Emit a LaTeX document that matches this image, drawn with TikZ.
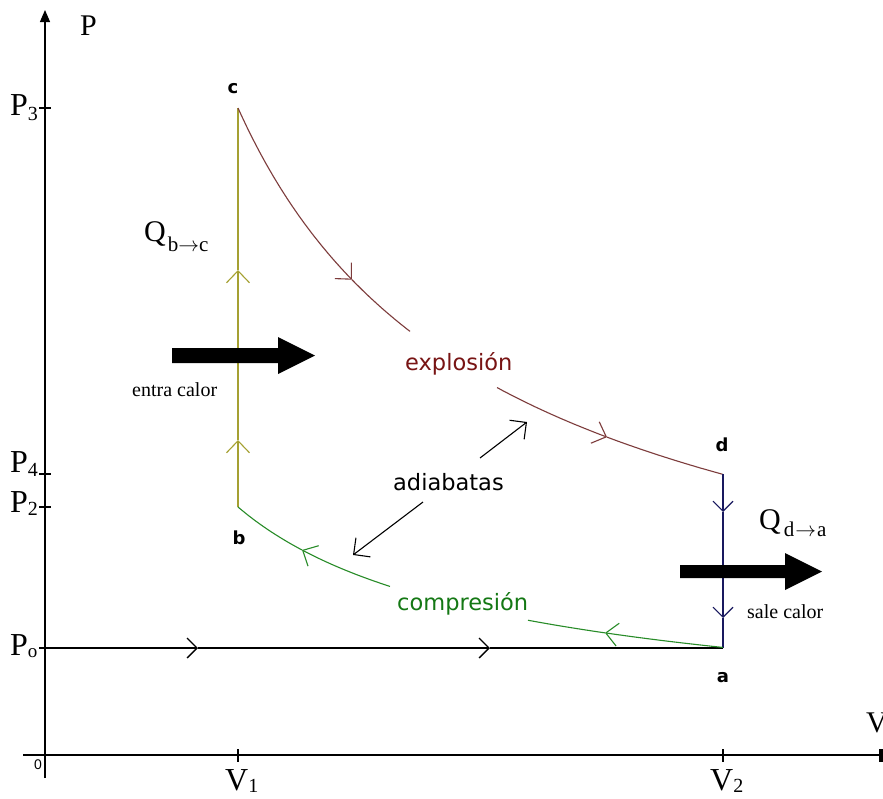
\documentclass[tikz,border=0pt]{standalone}
\usepackage{fontspec}
\setmainfont{Liberation Serif}
\newfontfamily\comic{DejaVu Sans}
\newfontfamily\lsans{Liberation Sans}
\usetikzlibrary{arrows.meta}
\definecolor{olivel}{RGB}{165,160,50}
\definecolor{brownl}{RGB}{125,60,60}
\definecolor{brownt}{RGB}{120,20,20}
\definecolor{greenl}{RGB}{40,140,40}
\definecolor{greent}{RGB}{20,120,20}
\definecolor{navyl}{RGB}{25,25,95}
\begin{document}
\begin{tikzpicture}[x=1pt,y=-1pt,
  axisline/.style={line width=1.3pt,black},
  curve/.style={line width=1.1pt},
  barb/.style={-{Straight Barb[length=12pt,width=23pt]}},
  sbarb/.style={-{Straight Barb[length=10pt,width=20pt]}},
  lbl/.style={inner sep=0pt,font=\fontsize{32}{32}\selectfont},
  pt/.style={inner sep=0pt,font=\comic\bfseries\fontsize{18}{18}\selectfont},
  comictxt/.style={inner sep=0pt,font=\comic\fontsize{22.5}{22.5}\selectfont},
  heat/.style={inner sep=0pt,font=\fontsize{20}{20}\selectfont}]
\useasboundingbox (0,0) rectangle (883,798);
\fill[white] (0,0) rectangle (883,798);
% key points
\coordinate (O) at (45,755);
\coordinate (a) at (723,648);
\coordinate (b) at (238,507);
\coordinate (c) at (238,108);
\coordinate (d) at (723,474);
\coordinate (p0) at (45,648);
% axes
\draw[axisline,-{Triangle[length=12pt,width=10pt]}] (45,778) -- (45,10);
\draw[axisline] (23,755) -- (883,755);
\draw[line width=3.5pt] (881,749) -- (881,762);
\foreach \yy in {108,474,507,648} \draw[axisline] (39,\yy) -- (51,\yy);
\foreach \xx in {238,723} \draw[axisline] (\xx,749) -- (\xx,762);
% axis labels
\node[inner sep=0pt,anchor=base west,font=\fontsize{30}{30}\selectfont] (Plab) at (80,35) {P};
\node[inner sep=0pt,anchor=base west,font=\fontsize{30}{30}\selectfont] (Vlab) at (866,732) {V};
\node[inner sep=0pt,font=\lsans\fontsize{14}{14}\selectfont] (zero) at (38,765) {0};
\node[lbl,anchor=base west] (P3) at (10,115) {P\raisebox{-5pt}{\fontsize{20}{20}\selectfont 3}};
\node[lbl,anchor=base west] (P4) at (10,472) {P\raisebox{-4pt}{\fontsize{20}{20}\selectfont 4}};
\node[lbl,anchor=base west] (P2) at (10,512) {P\raisebox{-3pt}{\fontsize{20}{20}\selectfont 2}};
\node[lbl,anchor=base west] (Po) at (10,655) {P\raisebox{-2pt}{\fontsize{19}{19}\selectfont o}};
\node[lbl,anchor=base west] (V1) at (225,790) {V\raisebox{-2pt}{\fontsize{20}{20}\selectfont 1}};
\node[lbl,anchor=base west] (V2) at (710,790) {V\raisebox{-2pt}{\fontsize{20}{20}\selectfont 2}};
% point labels
\node[pt,anchor=base] (lc) at (233,93) {c};
\node[pt,anchor=base] (lb) at (239,544) {b};
\node[pt,anchor=base] (ld) at (722,451) {d};
\node[pt,anchor=base] (la) at (723,682) {a};
% isobar P0 -> a
\draw[axisline,sbarb] (p0) -- (198,648);
\draw[axisline,sbarb] (198,648) -- (490,648);
\draw[axisline] (490,648) -- (a);
% b -> c (heat in)
\draw[curve,olivel,barb] (b) -- (238,440);
\draw[curve,olivel,barb] (238,440) -- (238,270);
\draw[curve,olivel] (238,270) -- (c);
% c -> d explosion adiabat
\draw[curve,brownl,barb] plot[domain=238:352,samples=50] (\x,{755-647*pow(193/(\x-45),0.665)});
\draw[curve,brownl] plot[domain=352:410,samples=20] (\x,{755-647*pow(193/(\x-45),0.665)});
\draw[curve,brownl,barb] plot[domain=497:607,samples=40] (\x,{755-647*pow(193/(\x-45),0.665)});
\draw[curve,brownl] plot[domain=607:723,samples=40] (\x,{755-647*pow(193/(\x-45),0.665)});
% d -> a
\draw[curve,navyl,sbarb] (d) -- (723,512);
\draw[curve,navyl,sbarb] (723,512) -- (723,618);
\draw[curve,navyl] (723,618) -- (a);
% a -> b compression adiabat
\draw[curve,greenl,barb] plot[domain=723:605,samples=40] (\x,{755-248*pow(193/(\x-45),0.665)});
\draw[curve,greenl] plot[domain=605:528,samples=30] (\x,{755-248*pow(193/(\x-45),0.665)});
\draw[curve,greenl,barb] plot[domain=390:302,samples=30] (\x,{755-248*pow(193/(\x-45),0.665)});
\draw[curve,greenl] plot[domain=302:238,samples=30] (\x,{755-248*pow(193/(\x-45),0.665)});
% curve labels
\node[comictxt,anchor=base west,text=brownt] (expl) at (405,370) {explosión};
\node[comictxt,anchor=base west,text=greent] (comp) at (397,610) {compresión};
\node[comictxt,anchor=base west,text=black] (adia) at (393,490) {adiabatas};
\coordinate (adUp) at (480,458);
\coordinate (adUpTip) at (527,422);
\coordinate (adDn) at (423,502);
\coordinate (adDnTip) at (353,555);
\draw[line width=1.1pt,black,-{Straight Barb[length=12pt,width=24pt]}] (adUp) -- (adUpTip);
\draw[line width=1.1pt,black,-{Straight Barb[length=12pt,width=24pt]}] (adDn) -- (adDnTip);
% heat arrows
\fill[black] (172,348) -- (278,348) -- (278,337) -- (315,355.5) -- (278,374) -- (278,363) -- (172,363) -- cycle;
\fill[black] (680,565) -- (785,565) -- (785,553) -- (822,571.5) -- (785,590) -- (785,578) -- (680,578) -- cycle;
\node[heat,anchor=base west] (entra) at (132,396) {entra calor};
\node[heat,anchor=base west] (sale) at (747,618) {sale calor};
% Q labels
\node[inner sep=0pt,anchor=base west,font=\fontsize{30}{30}\selectfont] (Qbc) at (144,241) {Q\kern2pt\raisebox{-10pt}{\fontsize{21}{21}\selectfont b$\to$c}};
\node[inner sep=0pt,anchor=base west,font=\fontsize{30}{30}\selectfont] (Qda) at (759,529) {Q\kern3pt\raisebox{-7pt}{\fontsize{21}{21}\selectfont d\kern1pt$\to$\kern1pt a}};
\end{tikzpicture}
\end{document}
